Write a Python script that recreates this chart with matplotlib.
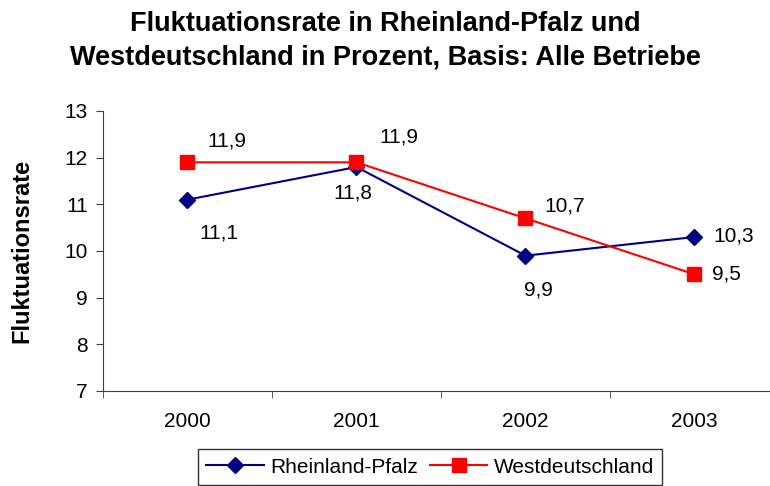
import matplotlib.pyplot as plt
from matplotlib import rcParams

rcParams["font.family"] = ["Liberation Sans", "DejaVu Sans"]

years = ["2000", "2001", "2002", "2003"]
rlp = [11.1, 11.8, 9.9, 10.3]
west = [11.9, 11.9, 10.7, 9.5]
yticks = [7, 8, 9, 10, 11, 12, 13]

# label offsets in pixels (dx, dy) from each point
rlp_off = [(31, -33), (-4, -26), (13, -34), (39, 1)]
west_off = [(39, 21), (42, 25), (39, 12), (32, 0)]

fig = plt.figure(figsize=(7.7, 4.86), dpi=100)
ax = fig.add_axes([103 / 770, 95 / 486, 676 / 770, 280 / 486])

x = list(range(len(years)))
ax.plot(x, rlp, color="#000080", marker="D", markersize=8.5, linewidth=1.5,
        label="Rheinland-Pfalz", clip_on=False)
ax.plot(x, west, color="#ff0000", marker="s", markersize=9.5, linewidth=1.5,
        label="Westdeutschland", clip_on=False)

def fmt(v):
    return f"{v:.1f}".replace(".", ",")

for xi, v, off in zip(x, rlp, rlp_off):
    ax.annotate(fmt(v), (xi, v), xytext=off, textcoords="offset pixels",
                ha="center", va="center", fontsize=15)
for xi, v, off in zip(x, west, west_off):
    ax.annotate(fmt(v), (xi, v), xytext=off, textcoords="offset pixels",
                ha="center", va="center", fontsize=15)

ax.set_xlim(-0.5, 3.5)
ax.set_ylim(7, 13)
ax.set_yticks(yticks)
ax.set_yticklabels([str(t) for t in yticks], fontsize=15)
ax.set_xticks(x)
ax.set_xticklabels(years, fontsize=15)
ax.set_xticks([-0.5, 0.5, 1.5, 2.5, 3.5], minor=True)
ax.tick_params(axis="x", which="major", length=0, pad=15)
ax.tick_params(axis="x", which="minor", length=5, color="#404040")
ax.tick_params(axis="y", length=5, color="#404040", pad=6)

for s in ["top", "right"]:
    ax.spines[s].set_visible(False)
for s in ["left", "bottom"]:
    ax.spines[s].set_color("#404040")

fig.text(22 / 770, 1 - 251 / 486, "Fluktuationsrate", rotation=90,
         ha="center", va="center", fontsize=17, fontweight="bold")

fig.text(0.5, 1 - 31 / 486, "Fluktuationsrate in Rheinland-Pfalz und",
         ha="center", va="baseline", fontsize=19.5, fontweight="bold")
fig.text(0.5, 1 - 64 / 486, "Westdeutschland in Prozent, Basis: Alle Betriebe",
         ha="center", va="baseline", fontsize=19.5, fontweight="bold")

leg = fig.legend(loc="center", bbox_to_anchor=(430 / 770, 1 - 467 / 486), ncol=2,
                 fontsize=15, frameon=True, fancybox=False, edgecolor="black",
                 handlelength=2.75, handletextpad=0.3, columnspacing=0.6,
                 borderpad=0.4, borderaxespad=0)
leg.get_frame().set_linewidth(1)

fig.savefig("out.png", dpi=100)
